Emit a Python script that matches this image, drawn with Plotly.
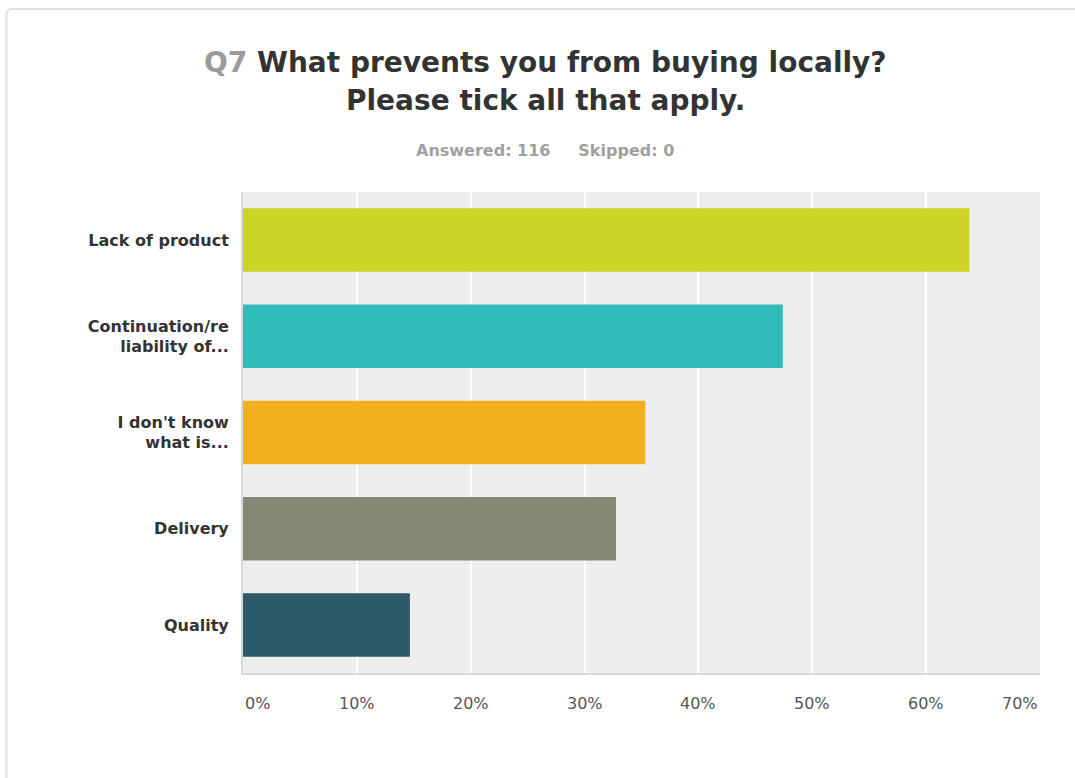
import plotly.graph_objects as go

# Survey question Q7 – share of respondents choosing each answer (multiple choice)
categories = [
    "Lack of product",
    "Continuation/re<br>liability of...",
    "I don't know<br>what is...",
    "Delivery",
    "Quality",
]
percentages = [63.79, 47.41, 35.34, 32.76, 14.66]
bar_colors = ["#CDD325", "#31BABA", "#F2AE1C", "#858875", "#2D5B6A"]

tick_values = [0, 10, 20, 30, 40, 50, 60, 70]
tick_labels = ["0%", "10%", "20%", "30%", "40%", "50%", "60%", "70%"]

title_prefix = "Q7"
title_main = "What prevents you from buying locally?"
title_line2 = "Please tick all that apply."
answered_text = "Answered: 116"
skipped_text = "Skipped: 0"

W, H = 1075, 778
ML, MR, MT, MB = 243, 35, 192, 105
PW, PH = W - ML - MR, H - MT - MB


def px_x(p):
    return (p - ML) / PW


def px_y(p):
    return (H - MB - p) / PH


fig = go.Figure(
    go.Bar(
        x=percentages,
        y=categories,
        orientation="h",
        marker=dict(color=bar_colors, line=dict(width=0)),
        hoverinfo="x+y",
    )
)

annotations = []
# x tick labels (the outer ones are pulled inside the plot edges)
for v, t in zip(tick_values, tick_labels):
    anchor = "center"
    if v == tick_values[0]:
        anchor = "left"
    elif v == tick_values[-1]:
        anchor = "right"
    annotations.append(
        dict(
            x=v, y=0, xref="x", yref="paper", text=t, showarrow=False,
            xanchor=anchor, yanchor="middle", yshift=-30,
            font=dict(family="DejaVu Sans", size=16, color="#555555"),
        )
    )

# titles
annotations.append(
    dict(
        x=px_x(545), y=px_y(62), xref="paper", yref="paper", showarrow=False,
        text=f"<span style='color:#9b9b9b'>{title_prefix}</span> {title_main}",
        xanchor="center", yanchor="middle",
        font=dict(family="DejaVu Sans", size=28, color="#333333", weight="bold"),
    )
)
annotations.append(
    dict(
        x=px_x(545), y=px_y(100), xref="paper", yref="paper", showarrow=False,
        text=title_line2, xanchor="center", yanchor="middle",
        font=dict(family="DejaVu Sans", size=28, color="#333333", weight="bold"),
    )
)
annotations.append(
    dict(
        x=px_x(545), y=px_y(150), xref="paper", yref="paper", showarrow=False,
        text=f"{answered_text}&nbsp;&nbsp;&nbsp;&nbsp;&nbsp;{skipped_text}",
        xanchor="center", yanchor="middle",
        font=dict(family="DejaVu Sans", size=16, color="#a0a0a0", weight="bold"),
    )
)

# card outline with rounded top-left corner
r = 6
card_path = (
    f"M {px_x(6.5)},{px_y(800)} L {px_x(6.5)},{px_y(9 + r)} "
    f"Q {px_x(6.5)},{px_y(9)} {px_x(6.5 + r)},{px_y(9)} "
    f"L {px_x(1100)},{px_y(9)}"
)
shapes = [
    dict(
        type="path", xref="paper", yref="paper", path=card_path,
        line=dict(color="#e0e0e0", width=2), layer="below",
    )
]

fig.update_layout(
    width=W,
    height=H,
    margin=dict(l=ML, r=MR, t=MT, b=MB, pad=0),
    paper_bgcolor="white",
    plot_bgcolor="#EEEEEE",
    bargap=0.34,
    showlegend=False,
    annotations=annotations,
    shapes=shapes,
    xaxis=dict(
        range=[0, 70],
        tickvals=tick_values,
        showticklabels=False,
        showgrid=True,
        gridcolor="#FFFFFF",
        gridwidth=2,
        zeroline=False,
        showline=True,
        linecolor="#D9D9D9",
        linewidth=2,
        fixedrange=True,
    ),
    yaxis=dict(
        autorange="reversed",
        showgrid=False,
        zeroline=False,
        showline=True,
        linecolor="#D9D9D9",
        linewidth=2,
        ticks="",
        ticklabelstandoff=9,
        tickfont=dict(family="DejaVu Sans", size=16, color="#333333", weight="bold"),
        fixedrange=True,
    ),
)

fig.write_html("out.html")
